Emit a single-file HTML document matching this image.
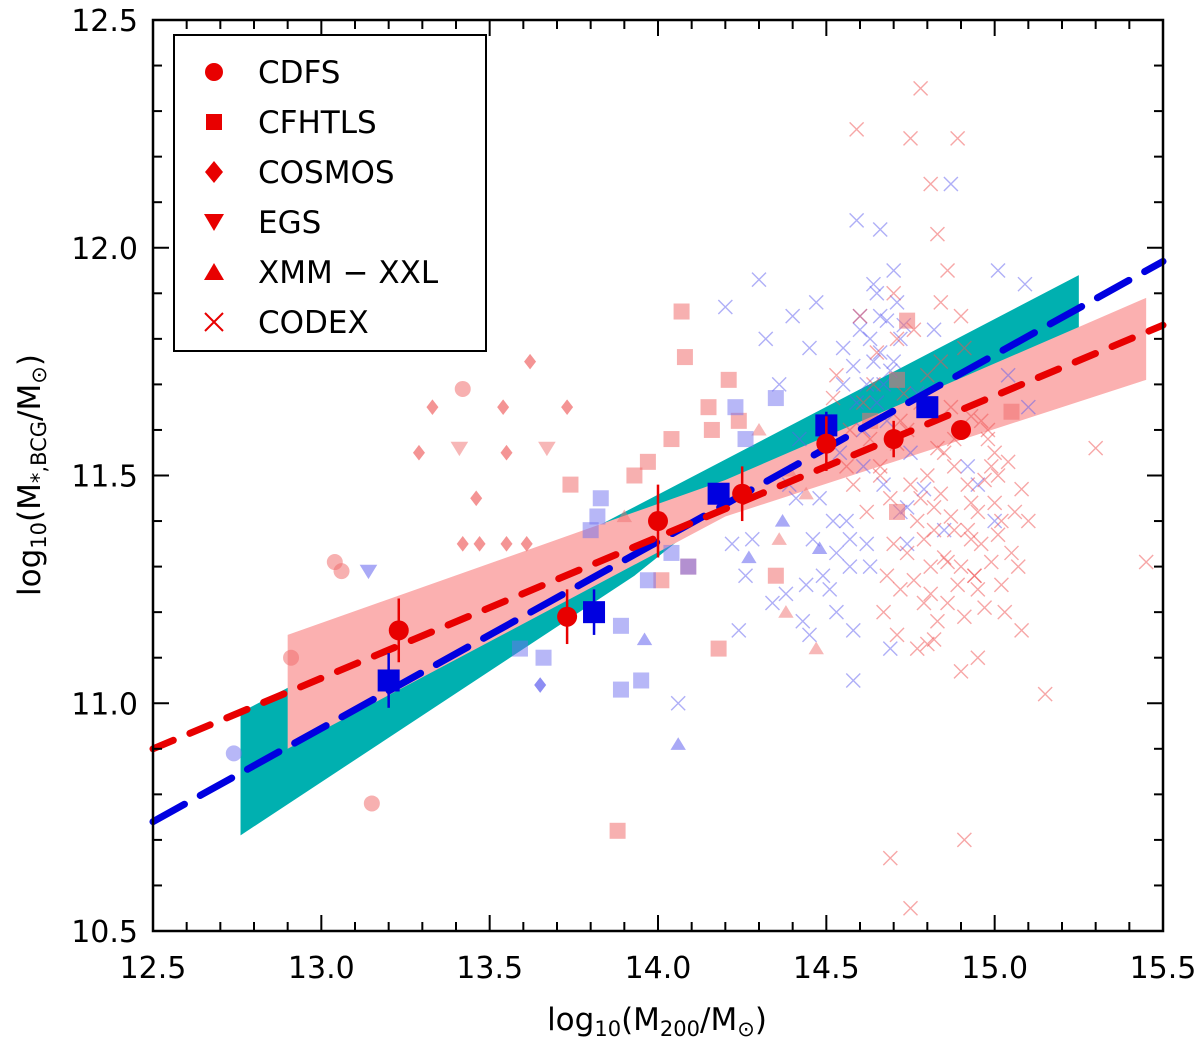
<!DOCTYPE html>
<html><head><meta charset="utf-8"><style>
body{margin:0;background:#fff}
svg{display:block;font-family:"DejaVu Sans","Liberation Sans",sans-serif}
</style></head><body>
<svg id="c" width="1200" height="1041"></svg>
<script>
const xTicks=[12.5,13.0,13.5,14.0,14.5,15.0,15.5];
const yTicks=[10.5,11.0,11.5,12.0,12.5];
const cdfsX=[13.23,13.73,14.0,14.25,14.5,14.7,14.9];
const cdfsY=[11.16,11.19,11.40,11.46,11.57,11.58,11.60];
const cdfsE=[0.07,0.06,0.08,0.06,0.06,0.04,0.02];
const cfhtX=[13.2,13.81,14.18,14.5,14.8];
const cfhtY=[11.05,11.20,11.46,11.61,11.65];
const cfhtE=[0.06,0.05,0.02,0.03,0.02];
const redFit=[[12.5,10.9],[15.5,11.83]];
const blueFit=[[12.5,10.74],[15.5,11.97]];
const tealBand=[[12.76,10.98],[15.25,11.94],[15.25,11.81],[14.2,11.44],[13.93,11.28],[12.76,10.71]];
const pinkBand=[[12.9,11.15],[14.2,11.49],[15.45,11.89],[15.45,11.71],[14.2,11.41],[12.9,10.9]];
const pSqX=[14.07,14.08,14.15,14.16,14.04,13.97,13.93,13.74,14.09,14.01,14.18,14.71,14.74,14.63,14.35,14.71,15.05,13.88,14.24,14.21];
const pSqY=[11.86,11.76,11.65,11.60,11.58,11.53,11.50,11.48,11.30,11.27,11.12,11.71,11.84,11.62,11.28,11.42,11.64,10.72,11.62,11.71];
const pDiX=[13.62,13.33,13.54,13.73,13.29,13.55,13.46,13.42,13.47,13.55,13.61];
const pDiY=[11.75,11.65,11.65,11.65,11.55,11.55,11.45,11.35,11.35,11.35,11.35];
const pCiX=[13.42,13.04,13.06,13.15,12.91];
const pCiY=[11.69,11.31,11.29,10.78,11.10];
const pDnX=[13.41,13.67];const pDnY=[11.56,11.56];
const pUpX=[13.90,14.44,14.36,14.38,14.47,14.30,14.39];
const pUpY=[11.41,11.46,11.36,11.20,11.12,11.60,11.51];
const bSqX=[13.83,13.82,13.80,13.97,13.89,13.66,13.59,13.89,13.95,14.09,14.23,14.26,14.35,14.04];
const bSqY=[11.45,11.41,11.38,11.27,11.17,11.10,11.12,11.03,11.05,11.30,11.65,11.58,11.67,11.33];
const bDiX=[13.65];const bDiY=[11.04];
const bDnX=[13.14];const bDnY=[11.29];
const bUpX=[13.96,14.06,14.48,14.37,14.27];const bUpY=[11.14,10.91,11.34,11.40,11.32];
const bCiX=[12.74];const bCiY=[10.89];
const rXx=[14.78,14.59,14.75,14.89,14.81,14.83,15.45,15.15,14.69,14.75,14.91,15.08,15.30,14.82,14.71,14.62,14.66,14.70,14.74,14.78,14.81,14.85,14.88,14.92,14.95,14.99,15.02,15.05,15.08,14.64,14.68,14.72,14.76,14.80,14.84,14.87,14.91,14.95,14.98,15.01,14.60,14.65,14.70,14.79,14.86,14.93,15.00,14.67,14.73,14.77,14.83,14.89,14.96,14.63,14.71,14.82,14.90,14.53,14.56,14.86,14.94,15.03,15.10,14.58,
 14.80,14.84,14.88,14.93,14.97,15.00,15.04,14.77,14.82,14.87,14.92,14.96,15.01,15.06,14.74,14.79,14.85,14.90,14.94,14.99,14.72,14.76,14.81,14.86,14.91,14.97,15.02,14.69,14.75,14.83,14.88,14.93,14.98,14.66,14.71,14.78,14.84,14.61,14.57,14.52,14.90,15.07,14.95,14.80];
const rXy=[12.35,12.26,12.24,12.24,12.14,12.03,11.31,11.02,10.66,10.55,10.70,11.16,11.56,11.14,11.15,11.42,11.50,11.35,11.60,11.45,11.30,11.55,11.38,11.48,11.25,11.52,11.40,11.33,11.47,11.70,11.28,11.62,11.82,11.72,11.88,11.65,11.78,11.42,11.58,11.50,11.85,11.77,11.90,11.22,11.31,11.36,11.44,11.20,11.68,11.12,11.18,11.26,11.62,11.58,11.80,11.38,11.07,11.72,11.52,11.95,11.28,11.20,11.40,11.48,
 11.50,11.46,11.52,11.44,11.49,11.55,11.53,11.40,11.43,11.41,11.38,11.35,11.37,11.42,11.33,11.36,11.32,11.30,11.28,11.31,11.25,11.27,11.24,11.22,11.19,11.21,11.26,11.45,11.48,11.56,11.58,11.63,11.60,11.52,11.57,11.66,11.75,11.66,11.60,11.67,11.85,11.30,11.10,11.13];
const bXx=[14.87,14.59,14.66,14.30,14.20,14.58,14.58,14.24,14.06,15.01,15.09,14.40,14.45,14.50,14.55,14.60,14.65,14.70,14.75,14.42,14.48,14.52,14.57,14.62,14.67,14.72,14.36,14.44,14.53,14.61,14.68,14.32,14.39,14.47,14.56,14.64,14.77,14.82,14.92,15.00,15.04,14.28,14.34,14.43,14.51,14.63,14.69,14.74,14.95,15.10,14.41,14.54,14.66,
 14.60,14.63,14.66,14.69,14.72,14.58,14.62,14.65,14.68,14.71,14.55,14.59,14.64,14.70,14.73,14.61,14.67,14.57,14.74,14.53,14.49,14.46,14.38,14.26,14.22,14.45,14.79,14.85];
const bXy=[12.14,12.06,12.04,11.93,11.87,11.05,11.16,11.16,11.00,11.95,11.92,11.85,11.78,11.62,11.70,11.82,11.90,11.75,11.55,11.58,11.45,11.40,11.30,11.35,11.48,11.42,11.70,11.26,11.20,11.52,11.62,11.80,11.48,11.88,11.40,11.75,11.68,11.82,11.52,11.40,11.72,11.36,11.22,11.18,11.25,11.30,11.12,11.35,11.48,11.65,11.45,11.55,11.85,
 11.85,11.80,11.77,11.73,11.80,11.74,11.70,11.66,11.84,11.88,11.78,11.66,11.92,11.95,11.83,11.60,11.70,11.36,11.43,11.33,11.28,11.36,11.24,11.28,11.35,11.15,11.47,11.38];

const NS='http://www.w3.org/2000/svg';
const svg=document.getElementById('c');
const X0=153,X1=1163,Y0=931,Y1=20;
const sx=v=>X0+(v-12.5)/3*(X1-X0);
const sy=v=>Y0-(v-10.5)/2*(Y0-Y1);
function el(t,a,p){const e=document.createElementNS(NS,t);for(const k in a)e.setAttribute(k,a[k]);(p||svg).appendChild(e);return e;}

let g=el('polygon',{points:tealBand.map(p=>sx(p[0])+','+sy(p[1])).join(' '),fill:'#00b0b0'});


g=el('polygon',{points:pinkBand.map(p=>sx(p[0])+','+sy(p[1])).join(' '),fill:'#fbb0b0'});



function sym(kind,x,y,s,fill,op){
  let e;
  if(kind==='sq')e=el('rect',{x:x-s,y:y-s,width:2*s,height:2*s});
  else if(kind==='ci')e=el('circle',{cx:x,cy:y,r:s});
  else if(kind==='di')e=el('polygon',{points:`${x},${y-s*1.3} ${x+s},${y} ${x},${y+s*1.3} ${x-s},${y}`});
  else if(kind==='dn')e=el('polygon',{points:`${x-s*1.1},${y-s*0.8} ${x+s*1.1},${y-s*0.8} ${x},${y+s}`});
  else if(kind==='up')e=el('polygon',{points:`${x-s*1.1},${y+s*0.8} ${x+s*1.1},${y+s*0.8} ${x},${y-s}`});
  else if(kind==='x'){e=el('path',{d:`M${x-s},${y-s}L${x+s},${y+s}M${x-s},${y+s}L${x+s},${y-s}`,stroke:fill,'stroke-width':1.4,fill:'none'});e.setAttribute('opacity',op);return e;}
  e.setAttribute('fill',fill);e.setAttribute('opacity',op);return e;
}
const PR='#f07070',BL='#7070f0';
function series(xs,ys,kind,col,op,s,name){
  xs.forEach((v,i)=>{const e=sym(kind,sx(v),sy(ys[i]),s,col,op);
    
    });
}
series(bXx,bXy,'x','#6060f0',0.5,7,'codex-blue-point');
series(rXx,rXy,'x','#f05050',0.5,7,'codex-red-point');
series(pSqX,pSqY,'sq',PR,0.55,8,'cfhtls-red-point');
series(pDiX,pDiY,'di',PR,0.75,6,'cosmos-red-point');
series(pCiX,pCiY,'ci',PR,0.55,8,'cdfs-red-point');
series(pDnX,pDnY,'dn',PR,0.5,8,'egs-red-point');
series(pUpX,pUpY,'up',PR,0.5,7,'xxl-red-point');
series(bSqX,bSqY,'sq',BL,0.5,8,'cfhtls-blue-point');
series(bDiX,bDiY,'di',BL,0.8,6,'cosmos-blue-point');
series(bDnX,bDnY,'dn',BL,0.6,8,'egs-blue-point');
series(bUpX,bUpY,'up',BL,0.6,7,'xxl-blue-point');
series(bCiX,bCiY,'ci',BL,0.5,8,'cdfs-blue-point');

g=el('line',{x1:sx(blueFit[0][0]),y1:sy(blueFit[0][1]),x2:sx(blueFit[1][0]),y2:sy(blueFit[1][1]),stroke:'#0000e0','stroke-width':7,'stroke-dasharray':'36 18','stroke-linecap':'round'});


g=el('line',{x1:sx(redFit[0][0]),y1:sy(redFit[0][1]),x2:sx(redFit[1][0]),y2:sy(redFit[1][1]),stroke:'#e80000','stroke-width':7,'stroke-dasharray':'22 18','stroke-linecap':'round'});



cfhtX.forEach((v,i)=>{
  el('line',{x1:sx(v),x2:sx(v),y1:sy(cfhtY[i]-cfhtE[i]),y2:sy(cfhtY[i]+cfhtE[i]),stroke:'#0000e0','stroke-width':2.5});
  const e=el('rect',{x:sx(v)-11,y:sy(cfhtY[i])-11,width:22,height:22,fill:'#0000e0'});
  
  
});
cdfsX.forEach((v,i)=>{
  el('line',{x1:sx(v),x2:sx(v),y1:sy(cdfsY[i]-cdfsE[i]),y2:sy(cdfsY[i]+cdfsE[i]),stroke:'#e80000','stroke-width':2.5});
  const e=el('circle',{cx:sx(v),cy:sy(cdfsY[i]),r:10,fill:'#e80000'});
  
  
});

g=el('rect',{x:X0,y:Y1,width:X1-X0,height:Y0-Y1,fill:'none',stroke:'#000','stroke-width':2.5});


for(let i=0;i<=30;i++){const v=12.5+i*0.1,L=(i%5===0)?16:9,x=sx(v);
  el('line',{x1:x,x2:x,y1:Y0,y2:Y0-L,stroke:'#000','stroke-width':2});
  el('line',{x1:x,x2:x,y1:Y1,y2:Y1+L,stroke:'#000','stroke-width':2});}
for(let i=0;i<=20;i++){const v=10.5+i*0.1,L=(i%5===0)?16:9,y=sy(v);
  el('line',{x1:X0,x2:X0+L,y1:y,y2:y,stroke:'#000','stroke-width':2});
  el('line',{x1:X1,x2:X1-L,y1:y,y2:y,stroke:'#000','stroke-width':2});}
xTicks.forEach(v=>{const t=el('text',{x:sx(v),y:978,'font-size':30,'text-anchor':'middle'});t.textContent=v.toFixed(1);
  
  });
yTicks.forEach(v=>{const t=el('text',{x:138,y:sy(v)+11,'font-size':30,'text-anchor':'end'});t.textContent=v.toFixed(1);
  
  });
</script>
<svg width="1200" height="1041" style="position:absolute;left:0;top:0;font-family:'DejaVu Sans','Liberation Sans',sans-serif">
<text x="657" y="1030" font-size="31" text-anchor="middle">log<tspan font-size="21" dy="6">10</tspan><tspan dy="-6">(M</tspan><tspan font-size="21" dy="6">200</tspan><tspan dy="-6">/M</tspan><tspan font-size="21" dy="6">⊙</tspan><tspan dy="-6">)</tspan></text>
<text transform="translate(40,475) rotate(-90)" font-size="31" text-anchor="middle">log<tspan font-size="21" dy="6">10</tspan><tspan dy="-6">(M</tspan><tspan font-size="21" dy="6">*,BCG</tspan><tspan dy="-6">/M</tspan><tspan font-size="21" dy="6">⊙</tspan><tspan dy="-6">)</tspan></text>
<g>
<rect x="174" y="35" width="312" height="316" fill="#fff" stroke="#000" stroke-width="2"/>
<circle cx="214" cy="72" r="9" fill="#e80000"/>
<rect x="206" y="114" width="16" height="16" fill="#e80000"/>
<polygon points="214,161 223,172 214,183 205,172" fill="#e80000"/>
<polygon points="204,214 224,214 214,231" fill="#e80000"/>
<polygon points="204,280 224,280 214,263" fill="#e80000"/>
<path d="M205,313L223,331M205,331L223,313" stroke="#e80000" stroke-width="2"/>
<g font-size="31" fill="#000">
<text x="258" y="83">CDFS</text>
<text x="258" y="133">CFHTLS</text>
<text x="258" y="183">COSMOS</text>
<text x="258" y="233">EGS</text>
<text x="258" y="283">XMM − XXL</text>
<text x="258" y="333">CODEX</text>
</g></g>
</svg>
</body></html>
